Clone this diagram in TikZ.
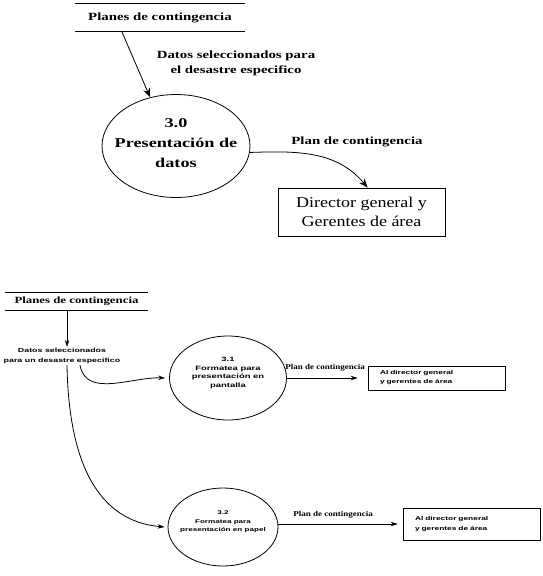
\documentclass[tikz,border=0pt]{standalone}
\usepackage{fontspec}
\setmainfont{Liberation Serif}
\newfontfamily\serifA[FakeStretch=1.2]{Liberation Serif}
\newfontfamily\serifB[FakeStretch=1.35]{Liberation Serif}
\newfontfamily\sansW[FakeStretch=1.5]{Liberation Sans}
\usetikzlibrary{shapes.geometric,arrows.meta,calc}
\begin{document}
\begin{tikzpicture}[x=1pt,y=-1pt,
  line width=0.8pt,
  arr/.style={-{Stealth[length=9pt,width=7pt]}},
  arrs/.style={-{Stealth[length=7pt,width=4.5pt]}},
  store/.style={inner sep=0pt},
  proc/.style={ellipse,draw,inner sep=0pt},
  ptext/.style={inner sep=0pt,align=center},
  ext/.style={rectangle,draw,inner sep=0pt},
  toplbl/.style={font=\serifB\bfseries\fontsize{11}{15}\selectfont,align=center,inner sep=0pt},
  botlbl/.style={font=\serifA\bfseries\fontsize{7.5}{9}\selectfont,align=center,inner sep=0pt},
  smalltxt/.style={font=\sansW\bfseries\fontsize{5.5}{8}\selectfont,align=center},
  exttxt/.style={text width=113pt,align=left,inner xsep=0pt}
]
\useasboundingbox (0,0) rectangle (543,576);

% ---------- top diagram ----------
\node[store,minimum width=170pt,minimum height=27pt,
      font=\serifB\bfseries\fontsize{11}{12}\selectfont] (ds1) at (160,17.5) {Planes de contingencia};
\draw (ds1.north west) -- (ds1.north east);
\draw (ds1.south west) -- (ds1.south east);

\node[proc,minimum width=148pt,minimum height=103pt] (p30) at (176,146) {};
\node[ptext,font=\serifB\bfseries\fontsize{13.5}{20}\selectfont] (t30) at ($(p30.center)+(0,-3)$)
      {3.0\\Presentación de\\datos};

\node[toplbl] (lab1) at (236,63) {Datos seleccionados para\\el desastre especifico};

\draw[arr] ($(ds1.south west)!0.276!(ds1.south east)$) -- (p30.118);

\node[ext,minimum width=167pt,minimum height=48pt,align=center,
      font=\serifA\fontsize{15}{19}\selectfont] (dest1) at (361.5,212)
      {Director general y\\Gerentes de área};

\node[toplbl] (lab2) at (357,142) {Plan de contingencia};

\draw[arr] (p30.-5) to[out=2,in=130] ($(dest1.north west)+(90,0)$);

% ---------- bottom diagram ----------
\node[store,minimum width=143pt,minimum height=17pt,
      font=\serifB\bfseries\fontsize{9.5}{10}\selectfont] (ds2) at (76.5,301.5) {Planes de contingencia};
\draw (ds2.north west) -- (ds2.north east);
\draw (ds2.south west) -- (ds2.south east);

\node[smalltxt,font=\sansW\bfseries\fontsize{5.9}{10}\selectfont,inner sep=1pt] (dat) at (62,356)
      {Datos seleccionados\\para un desastre especifico};

\coordinate (s2) at ($(ds2.south west)!0.434!(ds2.south east)$);
\draw[arrs] (s2) -- (s2 |- dat.north);

\node[proc,minimum width=117pt,minimum height=84pt] (p31) at (228,378) {};
\node[ptext,font=\sansW\bfseries\fontsize{6.3}{8.5}\selectfont] (t31) at ($(p31.center)+(0,-5)$)
      {3.1\\Formatea para\\presentación en\\pantalla};
\node[proc,minimum width=110pt,minimum height=78pt] (p32) at (223,527) {};
\node[ptext,font=\sansW\bfseries\fontsize{5.4}{8.5}\selectfont] (t32) at ($(p32.center)+(0,-5)$)
      {3.2\\Formatea para\\presentación en papel};

\draw[arrs] ($(dat.south)+(18,0)$) to[out=-80,in=178] ($(p31.west)+(-4,0)$);
\draw[arrs] ($(dat.south)+(5,0)$) to[out=-89,in=175,looseness=1.05] ($(p32.west)+(-3,0)$);

\node[ext,minimum width=137pt,minimum height=24pt,exttxt,
      font=\sansW\bfseries\fontsize{5.6}{9}\selectfont] (dest2) at (436.5,378)
      {Al director general\\y gerentes de área};
\node[ext,minimum width=137pt,minimum height=32pt,exttxt,
      font=\sansW\bfseries\fontsize{5.6}{10}\selectfont] (dest3) at (471.5,524)
      {Al director general\\y gerentes de área};

\node[botlbl] (lab3) at (325,368) {Plan de contingencia};
\node[botlbl] (lab4) at (333,515) {Plan de contingencia};

\draw[arrs] (p31.east) -- ($(dest2.west)+(-10,0)$);
\draw[arrs] (p32.east |- dest3.west) -- ($(dest3.west)+(-5,0)$);
\end{tikzpicture}
\end{document}
